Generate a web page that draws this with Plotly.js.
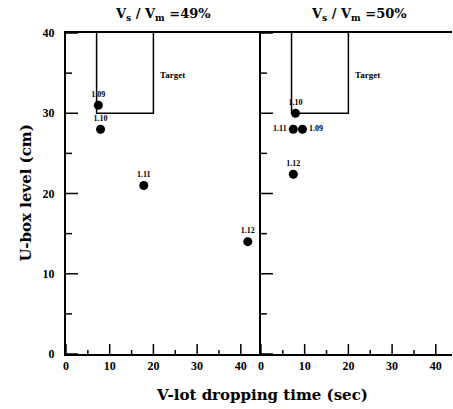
<!DOCTYPE html>
<html><head><meta charset="utf-8">
<script src="https://cdn.plot.ly/plotly-3.0.1.min.js"></script>
<style>html,body{margin:0;padding:0;background:#fff}#c{width:453px;height:409px}</style>
</head><body><div id="c"></div>
<script>
// Left panel (Vs/Vm = 49%)
const leftTime = [7.4, 7.9, 17.8, 41.6];
const leftLevel = [31, 28, 21, 14];
const leftLabels = ['1.09', '1.10', '1.11', '1.12'];
// Right panel (Vs/Vm = 50%)
const rightTime = [7.9, 7.4, 9.5, 7.4];
const rightLevel = [30, 28, 28, 22.4];
const rightLabels = ['1.10', '1.11', '1.09', '1.12'];
// Target region (same in both panels)
const targetX = [7, 7, 20, 20];
const targetY = [40, 30, 30, 40];
const targetLabel = 'Target';
const targetLabelX = 24.3, targetLabelY = 34.8;
// Ticks and texts
const xMajorTicks = [0, 10, 20, 30, 40];
const xMinorTicks = [5, 15, 25, 35];
const yMajorTicks = [0, 10, 20, 30, 40];
const yMinorTicks = [5, 15, 25, 35];
const panelTitles = ['V<sub>s</sub> / V<sub>m</sub> =49%', 'V<sub>s</sub> / V<sub>m</sub> =50%'];
const xTitle = 'V-lot dropping time (sec)';
const yTitle = 'U-box level (cm)';

const FONT = 'Liberation Serif';
const TFONT = 'DejaVu Serif';
const rightPos = ['top center', 'middle left', 'middle right', 'top center'];

const pt = (x, y, t, xa, ya, pos) => ({
  type: 'scatter', mode: 'markers+text', x, y, text: t, xaxis: xa, yaxis: ya,
  textposition: pos, cliponaxis: false,
  textfont: {family: FONT, size: 8, color: '#000000', weight: 'bold'},
  marker: {color: '#000', size: 9, line: {width: 0}}, showlegend: false, hoverinfo: 'skip'
});
const box = (xa, ya) => ({
  type: 'scatter', mode: 'lines', x: targetX, y: targetY, xaxis: xa, yaxis: ya,
  line: {color: '#000', width: 1.5}, showlegend: false, hoverinfo: 'skip'
});

const data = [
  box('x', 'y'), box('x2', 'y2'),
  pt(leftTime, leftLevel, leftLabels, 'x', 'y', 'top center'),
  pt(rightTime, rightLevel, rightLabels, 'x2', 'y2', rightPos)
];

// tick marks drawn as pixel-sized shapes anchored at the tick values
const shapes = [];
const LINE = {color: '#000', width: 1.5};
[['x', 'y'], ['x2', 'y2']].forEach(([xr, yr]) => {
  xMajorTicks.forEach(v => shapes.push({type: 'line', xref: xr, yref: yr, ysizemode: 'pixel', yanchor: 0, x0: v, x1: v, y0: 0, y1: 10, line: LINE}));
  xMinorTicks.forEach(v => shapes.push({type: 'line', xref: xr, yref: yr, ysizemode: 'pixel', yanchor: 0, x0: v, x1: v, y0: 0, y1: 4, line: LINE}));
  yMajorTicks.forEach(v => shapes.push({type: 'line', xref: xr, yref: yr, xsizemode: 'pixel', xanchor: 0, y0: v, y1: v, x0: 0, x1: 12, line: LINE}));
  yMinorTicks.forEach(v => shapes.push({type: 'line', xref: xr, yref: yr, xsizemode: 'pixel', xanchor: 0, y0: v, y1: v, x0: 0, x1: 6, line: LINE}));
});

const xa = (dom, rng, anchor) => ({
  anchor, domain: dom, range: rng, tickmode: 'array', tickvals: xMajorTicks, ticks: '',
  showline: true, linewidth: 2, linecolor: '#000', mirror: true, showgrid: false, zeroline: false,
  tickfont: {family: FONT, size: 12, color: '#000', weight: 'bold'}
});
const ya = (anchor, labels) => ({
  anchor, range: [0, 40], tickmode: 'array', tickvals: yMajorTicks, ticks: '',
  showline: true, linewidth: 2, linecolor: '#000', showgrid: false, zeroline: false,
  showticklabels: labels, ticklabelstandoff: 7,
  tickfont: {family: FONT, size: 12, color: '#000', weight: 'bold'}
});

const layout = {
  width: 453, height: 409, margin: {l: 66, r: 1, t: 33, b: 55},
  paper_bgcolor: '#fff', plot_bgcolor: '#fff', shapes,
  xaxis: xa([0, 0.505], [0, 44.6], 'y'),
  xaxis2: xa([0.505, 1], [0, 43.7], 'y2'),
  yaxis: ya('x', true),
  yaxis2: Object.assign(ya('x2', false), {matches: 'y'}),
  annotations: [
    {xref: 'x', yref: 'y', x: targetLabelX, y: targetLabelY, text: targetLabel, showarrow: false,
     font: {family: FONT, size: 9, color: '#000', weight: 'bold'}},
    {xref: 'x2', yref: 'y2', x: targetLabelX, y: targetLabelY, text: targetLabel, showarrow: false,
     font: {family: FONT, size: 9, color: '#000', weight: 'bold'}},
    {xref: 'paper', yref: 'paper', x: 0.25, xanchor: 'center', y: 1, yanchor: 'middle', yshift: 19, text: panelTitles[0], showarrow: false,
     font: {family: TFONT, size: 13, color: '#000', weight: 'bold'}},
    {xref: 'paper', yref: 'paper', x: 0.76, xanchor: 'center', y: 1, yanchor: 'middle', yshift: 19, text: panelTitles[1], showarrow: false,
     font: {family: TFONT, size: 13, color: '#000', weight: 'bold'}},
    {xref: 'paper', yref: 'paper', x: 0.508, xanchor: 'center', y: 0, yanchor: 'middle', yshift: -41, text: xTitle, showarrow: false,
     font: {family: TFONT, size: 15, color: '#000', weight: 'bold'}},
    {xref: 'paper', yref: 'paper', x: 0, xanchor: 'center', xshift: -41, y: 0.5, yanchor: 'middle', textangle: -90, text: yTitle, showarrow: false,
     font: {family: TFONT, size: 15, color: '#000', weight: 'bold'}}
  ]
};
Plotly.newPlot('c', data, layout, {displayModeBar: false, staticPlot: true});
</script></body></html>
